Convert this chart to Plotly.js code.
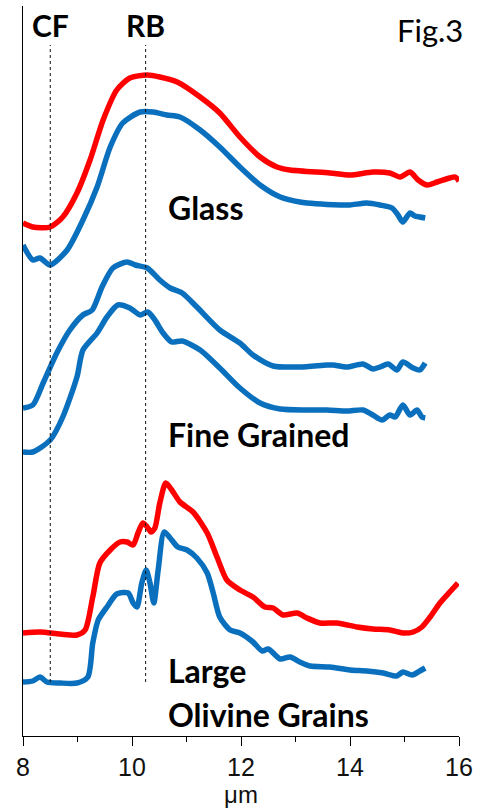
<!DOCTYPE html>
<html>
<head>
<meta charset="utf-8">
<script src="https://cdn.plot.ly/plotly-3.0.1.min.js"></script>
<style>html,body{margin:0;padding:0;background:#fff;}#chart{width:480px;height:812px;}</style>
</head>
<body>
<div id="chart"></div>
<script>
// Wavelength (µm) and offset emissivity (arbitrary units) for each spectrum
const glassRedX = [8.00,8.18,8.50,8.73,8.99,9.23,9.47,9.72,9.96,10.28,10.51,10.83,11.25,11.61,11.98,12.35,12.66,12.90,13.63,14.00,14.42,14.73,14.92,15.10,15.25,15.41,15.60,15.83,15.93,16.00];
const glassRedY = [513,509,509,519,543,576,616,646,658,661,659,654,639,623,599,579,569,566,563,561,564,563,559,564,556,551,554,558,559,555];

const glassBlueX = [8.00,8.18,8.31,8.50,8.81,9.10,9.36,9.60,9.83,10.15,10.39,10.64,10.88,11.25,11.61,11.98,12.35,12.72,13.08,13.82,14.00,14.31,14.55,14.77,14.88,14.97,15.10,15.19,15.28,15.38];
const glassBlueY = [491,476,478,471,486,516,549,589,613,624,624,621,619,606,589,569,551,539,534,531,531,533,531,528,521,514,523,520,519,518];

const fineUpperX = [8.00,8.18,8.37,8.62,8.86,9.10,9.27,9.45,9.65,9.91,10.06,10.28,10.51,10.70,10.92,11.19,11.61,11.98,12.22,12.59,13.08,13.58,13.69,13.94,14.24,14.42,14.55,14.70,14.86,14.97,15.16,15.28,15.38];
const fineUpperY = [328,331,353,383,406,421,426,449,468,474,471,468,456,448,443,429,406,393,381,370,369,371,371,369,372,367,369,372,366,374,368,366,373];

const fineLowerX = [8.00,8.18,8.50,8.73,8.99,9.10,9.36,9.54,9.74,9.96,10.15,10.29,10.42,10.57,10.73,10.92,11.25,11.61,11.98,12.35,12.72,13.21,13.58,13.94,14.24,14.42,14.59,14.73,14.83,14.97,15.10,15.23,15.32,15.38];
const fineLowerY = [284,284,296,319,359,386,403,419,431,428,421,424,416,403,394,395,386,368,348,333,327,326,326,325,326,321,316,321,319,331,321,326,319,318];

const olivineRedX = [8.00,8.31,8.68,8.99,9.14,9.28,9.41,9.60,9.78,9.91,10.02,10.11,10.20,10.28,10.35,10.42,10.51,10.62,10.73,10.88,11.12,11.38,11.56,11.74,11.98,12.22,12.44,12.59,12.77,13.03,13.21,13.45,13.76,14.13,14.42,14.73,14.97,15.16,15.32,15.47,15.65,15.83,15.98];
const olivineRedY = [103,104,102,101,106,139,173,186,194,194,191,203,213,209,204,208,233,253,246,234,224,203,179,156,146,139,129,128,121,123,118,113,113,109,107,106,103,104,109,119,133,144,153];

const olivineBlueX = [8.00,8.18,8.31,8.44,8.68,8.99,9.19,9.28,9.38,9.54,9.72,9.93,10.02,10.09,10.18,10.26,10.33,10.40,10.48,10.59,10.70,10.84,11.01,11.19,11.38,11.49,11.61,11.80,11.98,12.22,12.39,12.50,12.72,12.90,13.08,13.27,13.63,14.00,14.31,14.61,14.86,14.97,15.14,15.28,15.38];
const olivineBlueY = [54,55,59,54,53,53,59,93,116,129,142,143,133,129,153,166,153,133,166,204,198,189,186,178,163,143,119,106,103,94,85,87,77,79,74,70,69,66,65,63,60,64,61,65,68];

// Reference band positions (µm)
const bandNames = ['CF','RB'];
const bandPos = [8.5,10.25];

// Axis ticks
const tickVals = [8,10,12,14,16];
const tickText = ['8','10','12','14','16'];

// Sample labels
const sampleLabels = ['Glass','Fine Grained','Large','Olivine Grains'];
const sampleLabelY = [529,302,66,22];

const RED = '#FF0000', BLUE = '#0A70BE';
const series = [
  [glassRedX, glassRedY, RED],
  [glassBlueX, glassBlueY, BLUE],
  [fineUpperX, fineUpperY, BLUE],
  [fineLowerX, fineLowerY, BLUE],
  [olivineRedX, olivineRedY, RED],
  [olivineBlueX, olivineBlueY, BLUE]
];
const traces = series.map(s => ({
  x: s[0], y: s[1], type: 'scatter', mode: 'lines',
  line: {color: s[2], width: 5.5, shape: 'spline', smoothing: 0.7},
  hoverinfo: 'skip'
}));

const bandFont = {family: 'Lato, "Open Sans", sans-serif', size: 30, color: '#000', weight: 700};
const labelFont = {family: 'Lato, "Open Sans", sans-serif', size: 32, color: '#000', weight: 700};
const annotations = [];
bandNames.forEach((n, i) => annotations.push({
  x: bandPos[i], y: 711, xref: 'x', yref: 'y', text: '<b>' + n + '</b>',
  showarrow: false, xanchor: 'center', yanchor: 'middle', font: bandFont
}));
sampleLabels.forEach((n, i) => annotations.push({
  x: 10.62, y: sampleLabelY[i], xref: 'x', yref: 'y', text: '<b>' + n + '</b>',
  showarrow: false, xanchor: 'left', yanchor: 'middle', font: labelFont
}));
annotations.push({
  x: 15.46, y: 706, xref: 'x', yref: 'y', text: 'Fig.3', showarrow: false,
  xanchor: 'center', yanchor: 'middle',
  font: {family: 'Lato, "Open Sans", sans-serif', size: 31, color: '#000'}
});

const shapes = bandPos.map(p => ({
  type: 'line', xref: 'x', yref: 'y', x0: p, x1: p, y0: 54, y1: 691,
  line: {color: '#111', width: 1, dash: '3px,3px'}
}));

const layout = {
  width: 480, height: 812,
  margin: {l: 23, r: 21, t: 6, b: 76},
  paper_bgcolor: '#fff', plot_bgcolor: '#fff',
  showlegend: false,
  xaxis: {
    range: [8, 16], tickvals: tickVals, ticktext: tickText,
    ticks: 'outside', ticklen: 9, tickcolor: '#000', tickwidth: 1,
    showline: true, linecolor: '#000', linewidth: 1,
    showgrid: false, zeroline: false,
    minor: {dtick: 1, tick0: 8, ticks: 'outside', ticklen: 5, tickcolor: '#000', showgrid: false},
    tickfont: {family: '"Liberation Sans", Arial, sans-serif', size: 25, color: '#111'},
    title: {text: 'μm', font: {family: '"Liberation Sans", Arial, sans-serif', size: 24, color: '#111'}, standoff: 6}
  },
  yaxis: {
    range: [0, 730], showline: true, linecolor: '#000', linewidth: 1,
    ticks: '', showticklabels: false, showgrid: false, zeroline: false
  },
  annotations: annotations,
  shapes: shapes
};

Plotly.newPlot('chart', traces, layout, {staticPlot: true, displayModeBar: false});
</script>
</body>
</html>
